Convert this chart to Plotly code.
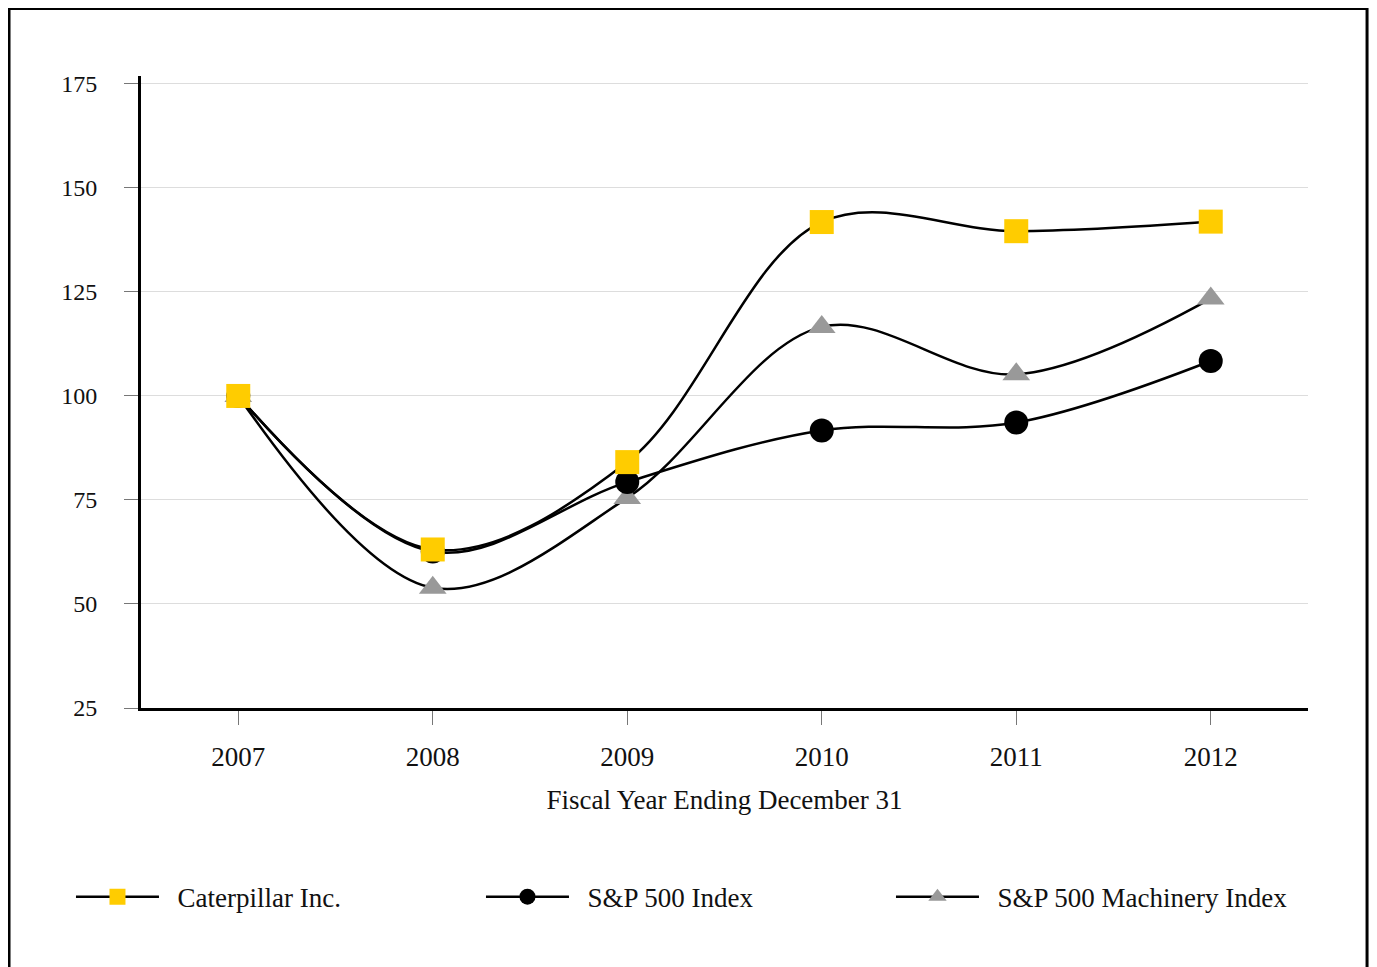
import plotly.graph_objects as go

years = [2007, 2008, 2009, 2010, 2011, 2012]
caterpillar = [100, 63.1, 84.1, 141.8, 139.6, 141.9]
sp500 = [100, 62.6, 79.3, 91.7, 93.6, 108.4]
machinery = [100, 53.9, 75.5, 116.6, 105.2, 123.4]
y_ticks = [25, 50, 75, 100, 125, 150, 175]
series_names = ["\u00a0\u00a0Caterpillar Inc.", "\u00a0\u00a0S&P 500 Index", "\u00a0\u00a0S&P 500 Machinery Index"]

FONT = "Liberation Serif"

fig = go.Figure()
fig.add_trace(go.Scatter(
    x=years, y=machinery, name=series_names[2], mode="lines+markers",
    line=dict(color="black", width=2.5, shape="spline"),
    marker=dict(symbol="triangle-up", size=24, color="#999999"),
))
fig.add_trace(go.Scatter(
    x=years, y=sp500, name=series_names[1], mode="lines+markers",
    line=dict(color="black", width=2.5, shape="spline"),
    marker=dict(symbol="circle", size=24, color="black"),
))
fig.add_trace(go.Scatter(
    x=years, y=caterpillar, name=series_names[0], mode="lines+markers",
    line=dict(color="black", width=2.5, shape="spline"),
    marker=dict(symbol="square", size=24, color="#FFCC00"),
))

fig.update_layout(
    width=1377, height=967,
    margin=dict(l=133, r=77, t=68, b=267),
    paper_bgcolor="white", plot_bgcolor="white",
    font=dict(family=FONT, size=24, color="#111111"),
    showlegend=True,
    legend=dict(orientation="h", x=-0.06, y=-0.2605, xanchor="left", yanchor="top",
                traceorder="reversed", entrywidth=312, entrywidthmode="pixels",
                font=dict(family=FONT, size=27), itemwidth=83),
    xaxis=dict(
        range=[2006.5, 2012.5], tickmode="array", tickvals=years,
        ticktext=[str(y) for y in years],
        showgrid=False, zeroline=False,
        showline=True, linecolor="black", linewidth=3,
        ticks="outside", ticklen=14, tickcolor="#777777", tickwidth=1,
        ticklabelstandoff=9,
        tickfont=dict(family=FONT, size=27),
        title=dict(text="Fiscal Year Ending December 31", font=dict(family=FONT, size=27), standoff=19),
    ),
    yaxis=dict(
        range=[25, 176.9], tickmode="array", tickvals=y_ticks,
        showgrid=True, gridcolor="#dddddd", gridwidth=1, zeroline=False,
        showline=True, linecolor="black", linewidth=3,
        ticks="outside", ticklen=14, tickcolor="#777777", tickwidth=1,
        ticklabelstandoff=22,
        tickfont=dict(family=FONT, size=24),
    ),
    shapes=[dict(type="rect", xref="paper", yref="paper",
                 x0=-0.1131, x1=1.0506, y0=-0.5, y1=1.1068,
                 line=dict(color="black", width=3), fillcolor="rgba(0,0,0,0)", layer="below")],
)

fig.write_html("out.html")
